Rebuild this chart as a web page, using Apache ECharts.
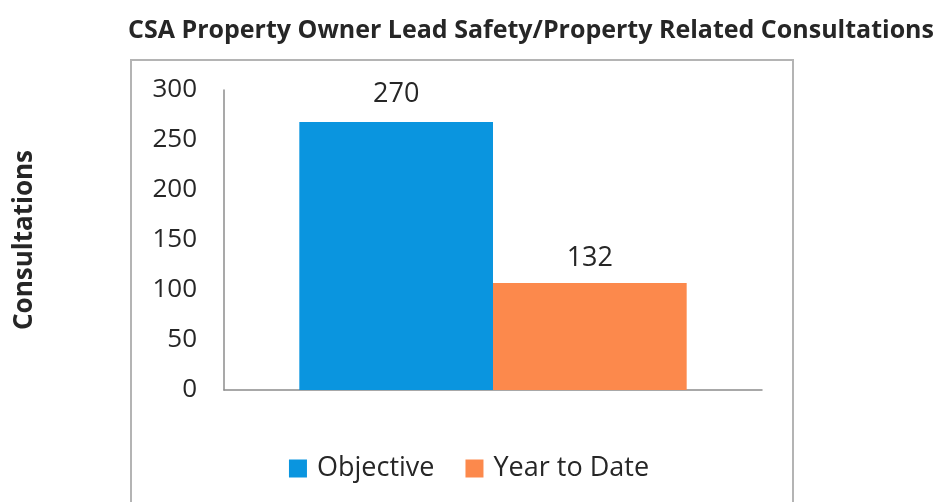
<!DOCTYPE html>
<html><head><meta charset="utf-8">
<script src="https://cdn.jsdelivr.net/npm/echarts@6/dist/echarts.min.js"></script>
<style>html,body{margin:0;padding:0;background:#fff}#c{width:938px;height:502px}</style>
</head><body><div id="c"></div>
<script>
const titleText = "CSA Property Owner Lead Safety/Property Related Consultations";
const yAxisName = "Consultations";
const categories = [""];
const seriesNames = ["Objective", "Year to Date"];
const objectiveValues = [268];
const yearToDateValues = [107];
const objectiveLabels = ["270"];
const yearToDateLabels = ["132"];
const yTicks = [0, 50, 100, 150, 200, 250, 300];

const FONT = "'Open Sans', sans-serif";
const chart = echarts.init(document.getElementById('c'), null, {renderer: 'canvas'});
chart.setOption({
  animation: false,
  title: {
    text: titleText, left: 526, top: 13, textAlign: 'center',
    textStyle: {fontFamily: FONT, fontWeight: 'bold', fontSize: 25, color: '#262626'}
  },
  graphic: [{
    type: 'rect', shape: {x: 131, y: 60, width: 662, height: 460},
    style: {fill: 'none', stroke: '#b4b4b4', lineWidth: 2}, silent: true, z: -1
  }],
  legend: {
    data: seriesNames, left: 'center', top: 450, itemWidth: 18, itemHeight: 18, itemGap: 31,
    icon: 'rect',
    textStyle: {fontFamily: FONT, fontSize: 27, color: '#262626', padding: [0, 0, 0, 5]}
  },
  grid: {left: 224, right: 176, top: 90, bottom: 112},
  xAxis: {
    type: 'category', data: categories,
    axisLine: {lineStyle: {color: '#8c8c8c', width: 1.5}},
    axisTick: {show: false}, axisLabel: {show: false}
  },
  yAxis: {
    type: 'value', min: yTicks[0], max: yTicks[yTicks.length - 1], interval: 50,
    name: yAxisName, nameLocation: 'middle', nameGap: 186, nameRotate: 90,
    nameTextStyle: {fontFamily: FONT, fontWeight: 'bold', fontSize: 26, color: '#262626'},
    axisLine: {show: true, lineStyle: {color: '#8c8c8c', width: 1.5}},
    axisTick: {show: false}, splitLine: {show: false},
    axisLabel: {fontFamily: FONT, fontSize: 26, color: '#262626', margin: 27}
  },
  series: [
    {
      name: seriesNames[0], type: 'bar', data: objectiveValues, barGap: 0, barCategoryGap: '28%',
      itemStyle: {color: '#0A95DF'},
      label: {show: true, position: 'top', distance: 14, formatter: p => objectiveLabels[p.dataIndex],
        fontFamily: FONT, fontSize: 27, color: '#262626'}
    },
    {
      name: seriesNames[1], type: 'bar', data: yearToDateValues,
      itemStyle: {color: '#FC894C'},
      label: {show: true, position: 'top', distance: 11, formatter: p => yearToDateLabels[p.dataIndex],
        fontFamily: FONT, fontSize: 27, color: '#262626'}
    }
  ]
});
</script></body></html>
